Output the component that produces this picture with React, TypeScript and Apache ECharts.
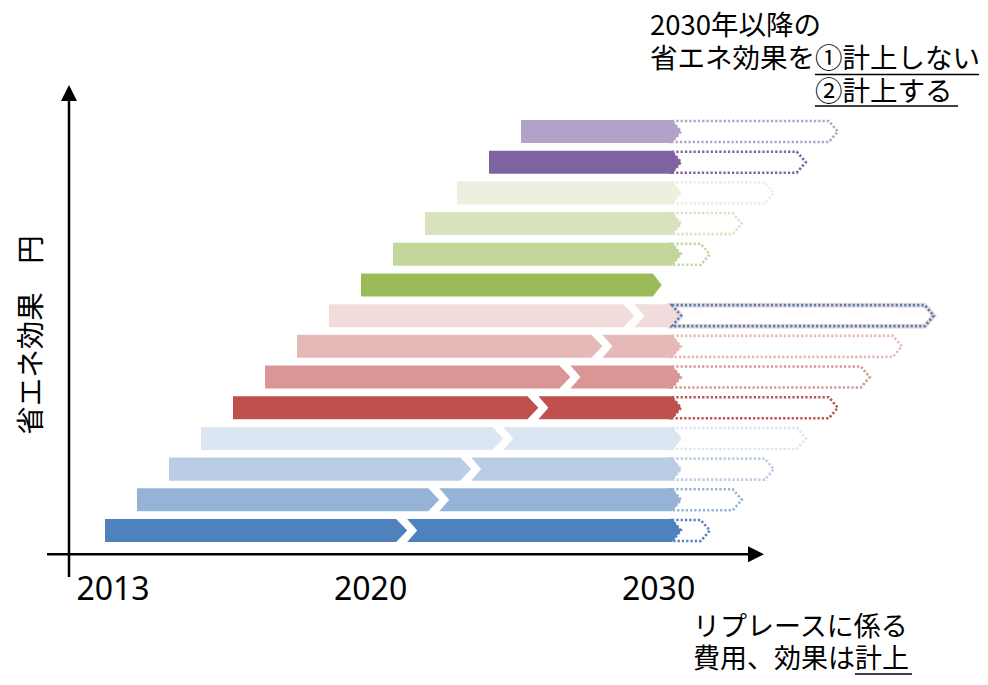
import React, { useEffect, useRef } from 'react';
import * as echarts from 'echarts';

// Rows listed from bottom to top; each row is one replacement wave starting in the given year
const rowLabels = ['2013', '2014', '2015', '2016', '2017', '2018', '2019', '2020', '2021', '2022', '2023', '2024', '2025', '2026'];
const startYears = [2013, 2014, 2015, 2016, 2017, 2018, 2019, 2020, 2021, 2022, 2023, 2024, 2025, 2026];
// year where the first lifetime ends and the replacement begins (chevron break)
const breakYears: (number | null)[] = [2022.1, 2023.1, 2024.1, 2025.1, 2026.2, 2027.2, 2028.2, 2029.2, null, null, null, null, null, null];
// end of counted period (solid part)
const solidEndYears = [2031, 2031, 2031, 2031, 2031, 2031, 2031, 2031, 2030.4, 2031, 2031, 2031, 2031, 2031];
// end of effect after 2030 (dotted part)
const dottedEndYears: (number | null)[] = [2031.9, 2032.9, 2033.9, 2034.9, 2035.9, 2036.9, 2037.9, 2038.9, null, 2031.9, 2032.9, 2033.9, 2034.9, 2035.9];

const tickLabels = ['2013', '2020', '2030'];
const tickValues = [2013.25, 2021.3, 2030.3];

const fillColors = ['#4F81BD', '#95B3D7', '#B9CDE5', '#DCE6F2', '#C0504D', '#D99694', '#E6B9B8', '#F2DCDB', '#9BBB59', '#C3D69B', '#D7E4BD', '#EBF1DE', '#8064A2', '#B3A2C7'];
const dotColors = ['#4F81BD', '#95B3D7', '#B9CDE5', '#DCE6F2', '#C0504D', '#D99694', '#E6B9B8', '#4F81BD', '#9BBB59', '#C3D69B', '#D7E4BD', '#EBF1DE', '#8064A2', '#B3A2C7'];
const haloColors: (string | null)[] = [null, null, null, null, null, null, null, '#F2DCDB', null, null, null, null, null, null];

const JP = "'Noto Sans CJK JP', 'Noto Sans', sans-serif";

export default function App() {
  const ref = useRef<HTMLDivElement>(null);
  useEffect(() => {
    document.body.style.margin = '0';
    const chart = echarts.init(ref.current!, null, { renderer: 'svg' });
    const data = startYears.map((s, i) => [i, s, solidEndYears[i]]);
    const txt = (text: string, x: number, y: number, size: number, lh: number) => ({
      type: 'text', x, y,
      style: { text, fontSize: size, lineHeight: lh, fontFamily: JP, fill: '#000', align: 'left', verticalAlign: 'middle' },
    });
    const ln = (x1: number, y1: number, x2: number, y2: number, w = 1.6) => ({
      type: 'line', shape: { x1, y1, x2, y2 }, style: { stroke: '#000', lineWidth: w },
    });
    chart.setOption({
      animation: false,
      grid: { left: 47, top: 116.15, width: 716, height: 429.7 },
      xAxis: {
        type: 'value', min: 2011.1875, max: 2033.5625,
        axisLine: { show: false }, axisTick: { show: false }, splitLine: { show: false },
        axisLabel: {
          customValues: tickValues,
          margin: 26,
          fontSize: 32, fontFamily: 'Noto Sans', color: '#000',
          formatter: (v: number) => {
            let best = 0;
            tickValues.forEach((t, k) => { if (Math.abs(t - v) < Math.abs(tickValues[best] - v)) best = k; });
            return tickLabels[best];
          },
        },
      },
      yAxis: {
        type: 'category', data: rowLabels,
        axisLine: { show: false }, axisTick: { show: false }, axisLabel: { show: false }, splitLine: { show: false },
      },
      series: [{
        type: 'custom',
        clip: false,
        data,
        encode: { x: [1, 2], y: 0 },
        renderItem: (params: any, api: any) => {
          const i = params.dataIndex;
          const idx = api.value(0);
          const yc = api.coord([startYears[i], idx])[1];
          const h = api.size([0, 1])[1] * 0.75;
          const top = yc - h / 2, bot = yc + h / 2;
          const tip = 9, gap = 11;
          const xs = api.coord([api.value(1), idx])[0];
          const xe = api.coord([api.value(2), idx])[0];
          const color = fillColors[i];
          const children: any[] = [];
          const bk = breakYears[i];
          if (bk != null) {
            const xb = api.coord([bk, idx])[0];
            children.push({ type: 'polygon', shape: { points: [[xs, top], [xb, top], [xb + tip + 2, yc], [xb, bot], [xs, bot]] }, style: { fill: color } });
            const xr = xb + gap;
            children.push({ type: 'polygon', shape: { points: [[xr, top], [xe - tip, top], [xe, yc], [xe - tip, bot], [xr, bot], [xr + tip + 1, yc]] }, style: { fill: color } });
          } else {
            children.push({ type: 'polygon', shape: { points: [[xs, top], [xe - tip, top], [xe, yc], [xe - tip, bot], [xs, bot]] }, style: { fill: color } });
          }
          const de = dottedEndYears[i];
          if (de != null) {
            const xd = api.coord([de, idx])[0];
            const pts = [[xe - tip, top + 1], [xd - tip, top + 1], [xd, yc], [xd - tip, bot - 1], [xe - tip, bot - 1], [xe, yc]];
            const halo = haloColors[i];
            if (halo) {
              children.push({ type: 'polygon', shape: { points: pts }, style: { fill: 'none', stroke: halo, lineWidth: 5 } });
            }
            children.push({ type: 'polygon', shape: { points: pts }, style: { fill: 'none', stroke: dotColors[i], lineWidth: 2.6, lineDash: [2.3, 2] } });
          }
          return { type: 'group', children };
        },
      }],
      graphic: [
        // axes
        ln(47, 554.3, 752, 554.3, 2.5),
        { type: 'polygon', shape: { points: [[748, 546.3], [764, 554.3], [748, 562.3]] }, style: { fill: '#000' } },
        ln(69, 577, 69, 98, 2.5),
        { type: 'polygon', shape: { points: [[61, 101], [69, 85], [77, 101]] }, style: { fill: '#000' } },
        // y title
        {
          type: 'text', x: 28, y: 335, rotation: Math.PI / 2,
          style: { text: '省エネ効果　円', fontSize: 28.5, fontFamily: JP, fill: '#000', align: 'center', verticalAlign: 'middle' },
        },
        // top annotation
        txt('2030年以降の\n省エネ効果を①計上しない\n　　　　　　②計上する', 650, 56, 27.5, 33),
        ln(815, 74.5, 979, 74.5),
        ln(815, 106, 958, 106),
        // bottom annotation
        txt('リプレースに係る\n費用、効果は計上', 693, 640, 27, 32),
        ln(855, 674, 912, 674),
      ],
    });
    return () => chart.dispose();
  }, []);
  return <div ref={ref} style={{ position: 'absolute', left: 0, top: 0, width: 988, height: 685 }} />;
}
